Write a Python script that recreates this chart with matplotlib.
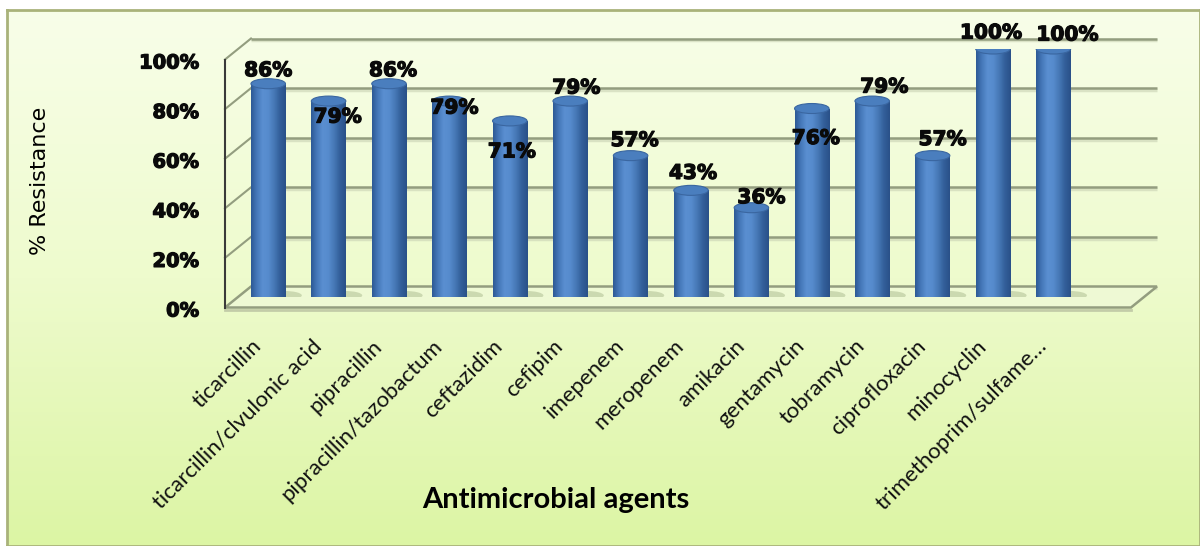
import numpy as np
import matplotlib
matplotlib.use("Agg")
import matplotlib.pyplot as plt
import matplotlib.patheffects as pe
from matplotlib.colors import LinearSegmentedColormap
from matplotlib.patches import Ellipse, Polygon
from matplotlib.transforms import ScaledTranslation

# data
agents = ["ticarcillin", "ticarcillin/clvulonic acid", "pipracillin",
          "pipracillin/tazobactum", "ceftazidim", "cefipim", "imepenem",
          "meropenem", "amikacin", "gentamycin", "tobramycin",
          "ciprofloxacin", "minocyclin", "trimethoprim/sulfame\u2026"]
resistance = [86, 79, 86, 79, 71, 79, 57, 43, 36, 76, 79, 57, 100, 100]
yticks = [0, 20, 40, 60, 80, 100]

# where Excel put each value label (pixels from the cylinder top)
label_dx = [0, 9, 4, 5, 2, 6, 4, 2, 10, 4, 12, 10, -2, 14]
label_dy = [13, -16, 13, -7, -31, 13, 15, 17, 10, -30, 14, 16, 16, 14]

W, H = 1200, 546
fig = plt.figure(figsize=(12, 5.46), dpi=100)

# green gradient chart area with olive frame
bg = fig.add_axes([7 / W, 0, 1 - 7 / W, 536 / H])
bg_cmap = LinearSegmentedColormap.from_list("bg", ["#f8fee9", "#eefbcd", "#dcf5a4"])
bg.imshow(np.linspace(0, 1, 256).reshape(-1, 1), aspect="auto", cmap=bg_cmap,
          extent=[0, 1, 0, 1], origin="upper")
bg.set_xticks([])
bg.set_yticks([])
for s in bg.spines.values():
    s.set_color("#a9b27a")
    s.set_linewidth(2)

# plot axes = middle depth plane of the 3-D chart
x0, x1 = 238, 1144
ax = fig.add_axes([x0 / W, (H - 297) / H, (x1 - x0) / W, 248 / H])
ppx = (x1 - x0) / 15.0   # pixels per category
ppy = 2.48               # pixels per percent
DX, DY = 13 / ppx, 10.5 / ppy
xl, xr = -0.5, 14.5
grid_c = "#939d7f"

# floor
ax.add_patch(Polygon([(xl - DX, -DY), (xr - DX, -DY), (xr + DX, DY), (xl + DX, DY)],
                     closed=True, fc="#eef9d4", ec=grid_c, lw=1.8, zorder=1.5,
                     clip_on=False))
ax.plot([xl - DX, xr - DX], [-DY - 0.9, -DY - 0.9], color="#c3cca8", lw=2,
        zorder=1.4, clip_on=False)
# back wall and side wall gridlines
for t in yticks:
    ax.plot([xl + DX, xr + DX], [t + DY - 0.8, t + DY - 0.8], color="#c9d2b4",
            lw=2.5, alpha=0.6, zorder=0.9, solid_capstyle="butt", clip_on=False)
    if t > 0:
        ax.plot([xl + DX, xr + DX], [t + DY, t + DY], color=grid_c, lw=1.8,
                zorder=1, solid_capstyle="butt", clip_on=False)
        ax.plot([xl - DX, xl + DX], [t - DY, t + DY], color=grid_c, lw=1.5,
                zorder=1, clip_on=False)
# front vertical axis
ax.plot([xl - DX, xl - DX], [-DY, 100 - DY], color="#3a3a3a", lw=1.5, zorder=2,
        clip_on=False)

# cylinders
bw = 34.5 / ppx
eh = 10 / ppy
cyl = LinearSegmentedColormap.from_list(
    "cyl", ["#2d5a96", "#4679ba", "#5a8fd1", "#568bcd", "#4678b6", "#335f9a", "#2a5189"])
shade = np.linspace(0, 1, 64).reshape(1, -1)
x = np.arange(len(agents))
bars = ax.bar(x, resistance, width=bw, color="none", lw=0, zorder=3)
for i, (b, v) in enumerate(zip(bars, resistance)):
    ax.add_patch(Ellipse((i + bw * 0.45, DY * 0.15), bw * 1.05, eh * 0.9,
                         fc="#7d8f5e", alpha=0.3, lw=0, zorder=2))
    base = Ellipse((i, 0), bw, eh, transform=ax.transData)
    im = ax.imshow(shade, cmap=cyl, aspect="auto", zorder=3,
                   extent=[i - bw / 2, i + bw / 2, -eh / 2, eh / 2])
    im.set_clip_path(base)
    im = ax.imshow(shade, cmap=cyl, aspect="auto", zorder=3,
                   extent=[i - bw / 2, i + bw / 2, 0, v])
    im.set_clip_path(b)
    ax.add_patch(Ellipse((i, v), bw, eh, fc="#4a7ebe", ec="#3a66a0", lw=0.8, zorder=4))

heavy = [pe.withStroke(linewidth=0.9, foreground="#0a0a0a")]

# value labels
for i, v in enumerate(resistance):
    ax.annotate(f"{v}%", (i, v), xytext=(label_dx[i], label_dy[i]),
                textcoords="offset pixels", ha="center", va="center",
                fontsize=14.5, fontweight="bold", family="DejaVu Sans",
                color="#0a0a0a", zorder=6, path_effects=heavy)

# value axis labels on the front plane
ytr = ax.transData + ScaledTranslation(-0.26, -0.14, fig.dpi_scale_trans)
for t in yticks:
    ax.text(xl - DX, t, f"{t}%", transform=ytr, ha="right", va="center",
            fontsize=14, fontweight="bold", family="DejaVu Sans", color="#0a0a0a",
            path_effects=heavy)

# category labels
xtr = ax.transData + ScaledTranslation(-0.10, -0.46, fig.dpi_scale_trans)
for i, name in enumerate(agents):
    ax.text(i, 0, name, transform=xtr, rotation=45, rotation_mode="anchor",
            ha="right", va="center", fontsize=16, family=["Lato", "DejaVu Sans"],
            color="#111111")

ax.set_xlabel("Antimicrobial agents", fontsize=21, fontweight="bold", family="Lato")
ax.xaxis.set_label_coords((556 - x0) / (x1 - x0), -(487 - 297) / 248)
ax.set_ylabel("% Resistance", fontsize=16, family="DejaVu Sans")
ax.yaxis.set_label_coords((50 - x0) / (x1 - x0), (297 - 181) / 248)

ax.set_xlim(xl, xr)
ax.set_ylim(0, 100)
ax.set_xticks([])
ax.set_yticks([])
ax.patch.set_visible(False)
for s in ax.spines.values():
    s.set_visible(False)

fig.savefig("out.png", dpi=100)
